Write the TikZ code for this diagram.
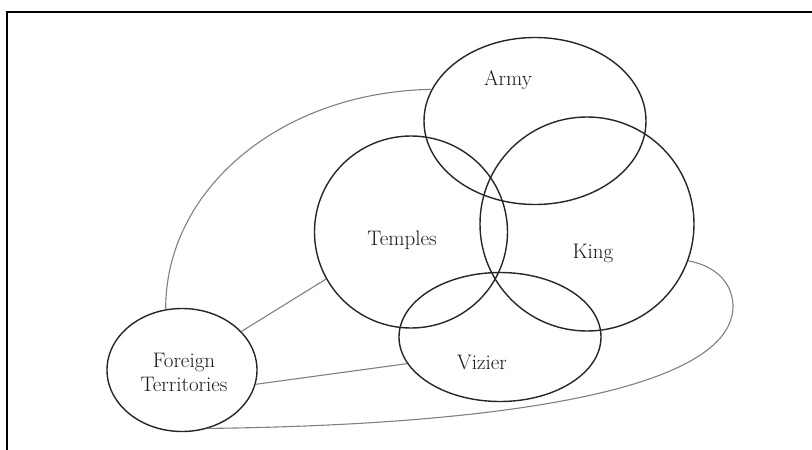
\documentclass[tikz,border=0pt]{standalone}
\usetikzlibrary{shapes.geometric}
\tikzset{
  group/.style={draw=black!85,line width=1.4pt,ellipse,inner sep=0pt},
  tie/.style={draw=black!50,line width=1.1pt},
  lbl/.style={font=\fontsize{21}{24}\selectfont,text=black!90,align=center}
}
\begin{document}
\begin{tikzpicture}[x=1pt,y=-1pt]
\useasboundingbox (0,0) rectangle (812,450);
% frame
\draw[line width=1.6pt] (812,12) -- (7,12) -- (7,450);
% groups
\node[group,minimum width=222pt,minimum height=167pt] (army) at (535,121) {};
\node[group,minimum width=193pt,minimum height=192pt] (temples) at (411,232) {};
\node[group,minimum width=214pt,minimum height=214pt] (king) at (587,224) {};
\node[group,minimum width=202pt,minimum height=129pt] (vizier) at (500,337) {};
\node[group,minimum width=150pt,minimum height=123pt] (foreign) at (182,370) {};
\node[lbl] (armytxt) at (508,80) {Army};
\node[lbl] (templestxt) at (402,240) {Temples};
\node[lbl] (kingtxt) at (593,253) {King};
\node[lbl] (viziertxt) at (482,362) {Vizier};
\node[lbl] (foreigntxt) at (184,372) {Foreign\\Territories};
% ties
\draw[tie] (foreign.105) .. controls (165,190) and (280,92) .. (army.163);
\draw[tie] (foreign.33) -- (temples.209);
\draw[tie] (foreign.349) -- (vizier.196);
\draw[tie] (foreign.294) .. controls (500,425) and (735,390) .. (733,305)
  .. controls (732,280) and (712,265) .. (king.340);
\end{tikzpicture}
\end{document}
